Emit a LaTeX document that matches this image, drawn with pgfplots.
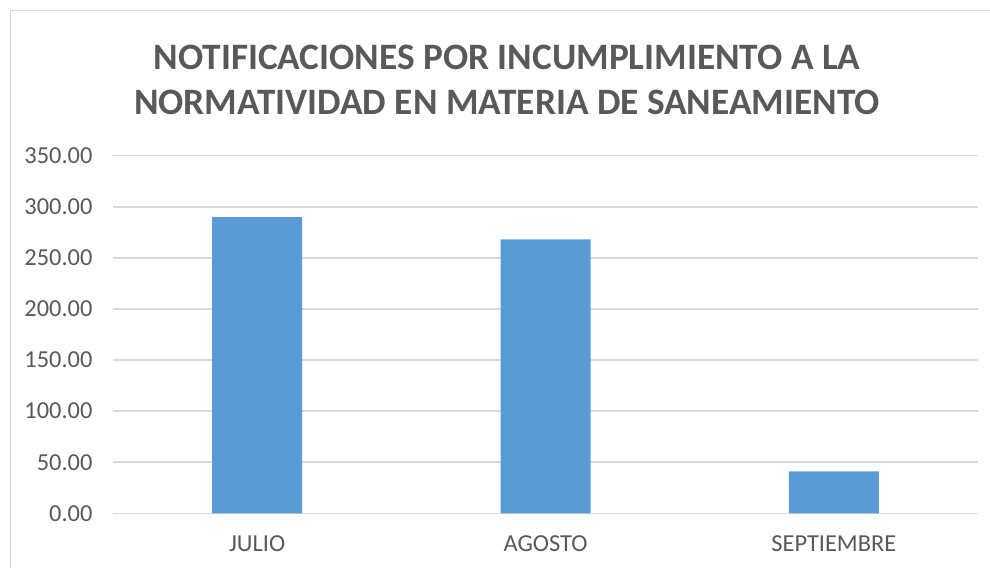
\documentclass[border=0pt]{standalone}
\usepackage{pgfplots}
\pgfplotsset{compat=1.18}
\usepackage{fontspec}
\setmainfont{Carlito}
\definecolor{barblue}{HTML}{5B9BD5}
\definecolor{txt}{HTML}{595959}
\definecolor{gridc}{HTML}{D9D9D9}
\begin{document}
\begin{tikzpicture}[x=1pt,y=1pt]
\path[use as bounding box] (0,0) rectangle (990,568);
\draw[gridc, line width=1.5pt] (10.5,0) -- (10.5,557.5) -- (990,557.5);
\node[txt, font=\fontsize{37.3}{45.5}\selectfont\bfseries, align=center] at (507,488) {NOTIFICACIONES POR INCUMPLIMIENTO A LA\\NORMATIVIDAD EN MATERIA DE SANEAMIENTO};
\begin{axis}[at={(113pt,54.7pt)}, anchor=south west, scale only axis,
  width=865pt, height=357.6pt,
  ymin=0, ymax=350, ytick={0,50,...,350},
  xmin=-0.5, xmax=2.5, xtick={0,1,2},
  xticklabels={JULIO,AGOSTO,SEPTIEMBRE},
  ybar, bar width=90pt,
  ymajorgrids, grid style={gridc, line width=1.5pt},
  axis x line*=bottom, axis y line*=left,
  x axis line style={gridc, line width=1.5pt, -},
  y axis line style={draw=none},
  major tick length=0pt,
  tick label style={txt, font=\fontsize{24.4}{28}\selectfont},
  /pgf/number format/assume math mode=true,
  yticklabel style={/pgf/number format/fixed, /pgf/number format/fixed zerofill, /pgf/number format/precision=2, xshift=-17pt},
  xticklabel style={yshift=-19pt},
  scaled y ticks=false,
]
\addplot[fill=barblue, draw=none] coordinates {(0,290) (1,268) (2,41)};
\end{axis}
\end{tikzpicture}
\end{document}
